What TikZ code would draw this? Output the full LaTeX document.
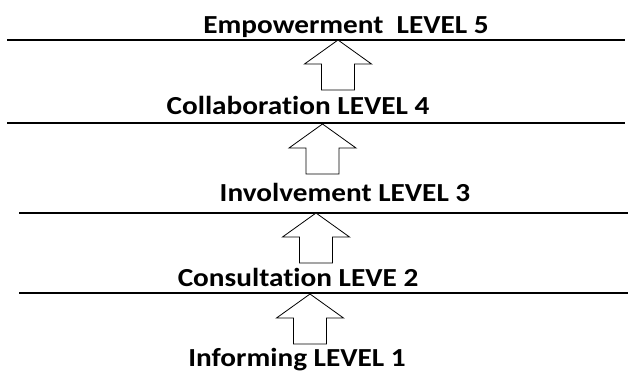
\documentclass[tikz,border=0pt]{standalone}
\usepackage{fontspec}
\setmainfont{Carlito}[Ligatures=NoCommon]
\usetikzlibrary{positioning}

\tikzset{
    levelline/.style={line width=1.6pt},
    levellabel/.style={anchor=base, inner sep=0pt, xscale=1.125, transform shape,
        font=\fontsize{26}{30}\selectfont\bfseries},
    arrowline/.style={line width=0.8pt, fill=white, line join=miter},
    uparrow/.pic={
        \draw[arrowline] (0,0) -- (33.5,24) -- (16.5,24) -- (16.5,50)
            -- (-16.5,50) -- (-16.5,24) -- (-33.5,24) -- cycle;
    }
}

\begin{document}
\begin{tikzpicture}[x=1pt, y=-1pt]
    \useasboundingbox (0,0) rectangle (628,374);

    % level lines
    \draw[levelline] (7,40) -- (625,40);
    \draw[levelline] (7,123) -- (625,123);
    \draw[levelline] (19,213) -- (628,213);
    \draw[levelline] (19,293) -- (628,293);

    % labels
    \node[levellabel] (lvl5) at (346,34) {Empowerment\ \ LEVEL 5};
    \node[levellabel] (lvl4) at (298,115) {Collaboration LEVEL 4};
    \node[levellabel] (lvl3) at (345,201) {Involvement LEVEL 3};
    \node[levellabel] (lvl2) at (298,286) {Consultation LEVE 2};
    \node[levellabel] (lvl1) at (297,366) {Informing LEVEL 1};

    % block arrows
    \pic at (338,40) {uparrow};
    \pic at (322.5,124) {uparrow};
    \pic at (316,213) {uparrow};
    \pic at (310,294) {uparrow};
\end{tikzpicture}
\end{document}
